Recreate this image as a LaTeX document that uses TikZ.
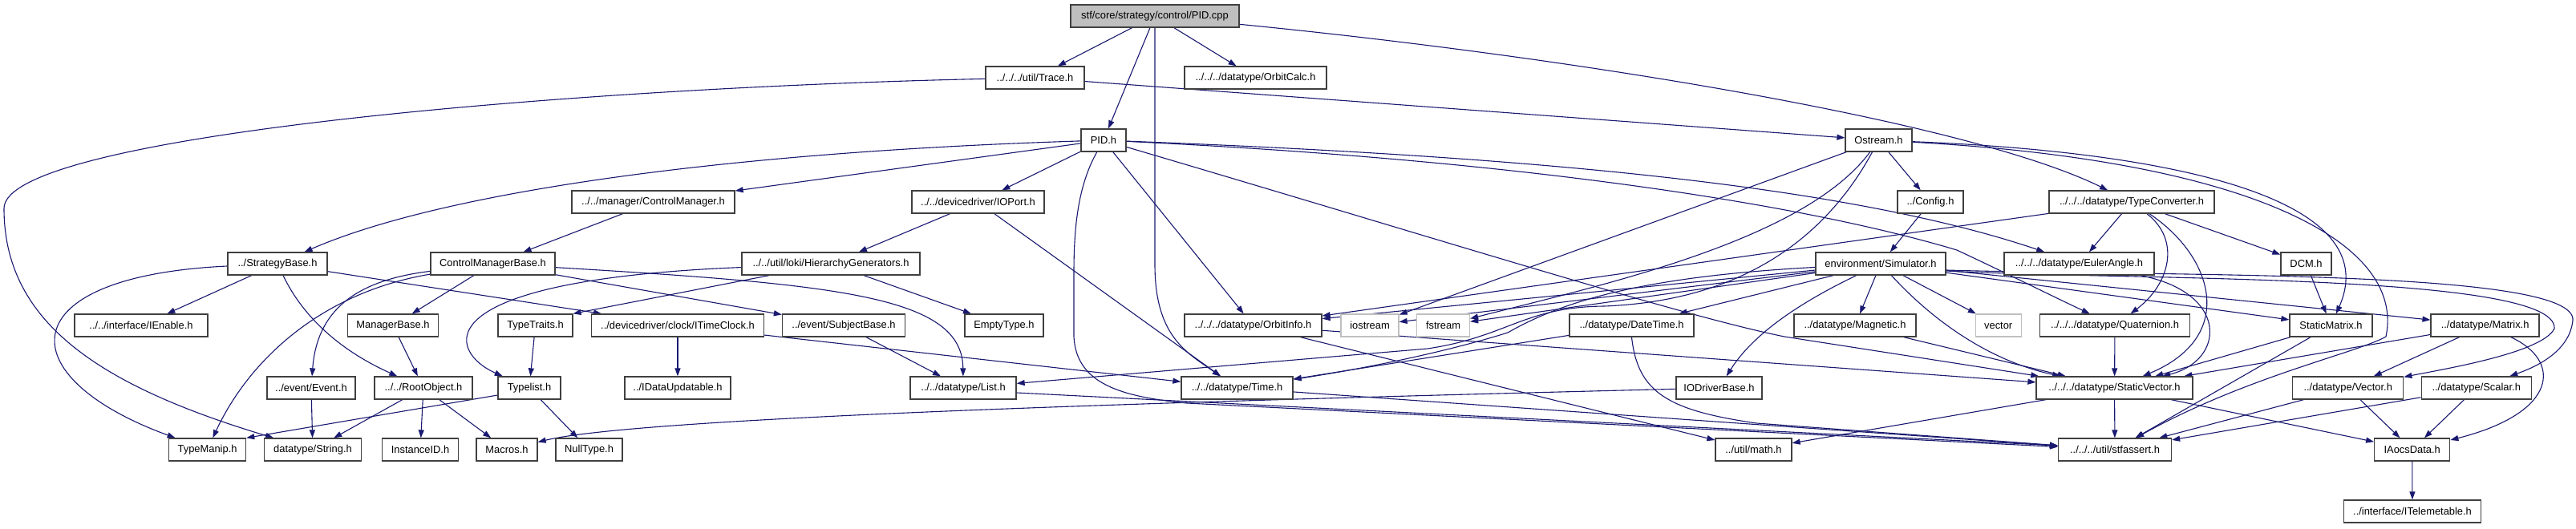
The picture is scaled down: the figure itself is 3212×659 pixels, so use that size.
\documentclass[tikz,border=0pt]{standalone}
\usepackage{fontspec}
\setmainfont{Liberation Sans}
\usetikzlibrary{arrows.meta}
\definecolor{edgec}{HTML}{191970}
\definecolor{rootfill}{HTML}{BFBFBF}
\definecolor{extc}{HTML}{BFBFBF}
\definecolor{bordc}{HTML}{404040}
\pgfdeclarelayer{bg}
\pgfsetlayers{bg,main}
\begin{document}
\begin{tikzpicture}[x=1pt,y=-1pt,
  nd/.style={draw=bordc, line width=1.3pt, fill=white, minimum height=28pt, inner sep=0pt, font=\fontsize{12.9}{14}\selectfont},
  rootnd/.style={nd, fill=rootfill},
  extnd/.style={nd, draw=extc},
  dep/.style={draw=edgec, line width=1.1pt, -{Triangle[length=10pt,width=7pt]}},
]
\useasboundingbox (0,0) rectangle (3212,659);
% row 1
\node[rootnd, minimum width=210pt] (cpp) at (1440,20) {stf/core/strategy/control/PID.cpp};
% row 2
\node[nd, minimum width=123pt] (trace) at (1290.5,97) {../../../util/Trace.h};
\node[nd, minimum width=177pt] (orbitcalc) at (1565.5,97) {../../../datatype/OrbitCalc.h};
% row 3
\node[nd, minimum width=56pt] (pidh) at (1376,175) {PID.h};
\node[nd, minimum width=83pt] (ostream) at (2342.5,175) {Ostream.h};
% row 4
\node[nd, minimum width=203pt] (ctrlmgr) at (814.5,252) {../../manager/ControlManager.h};
\node[nd, minimum width=165pt] (ioport) at (1219.5,252) {../../devicedriver/IOPort.h};
\node[nd, minimum width=82pt] (config) at (2407,252) {../Config.h};
\node[nd, minimum width=206pt] (typeconv) at (2658,252) {../../../datatype/TypeConverter.h};
% row 5
\node[nd, minimum width=124pt] (strategy) at (346,329) {../StrategyBase.h};
\node[nd, minimum width=155pt] (cmbase) at (614.5,329) {ControlManagerBase.h};
\node[nd, minimum width=222pt] (hiergen) at (1036,329) {../../util/loki/HierarchyGenerators.h};
\node[nd, minimum width=162pt] (sim) at (2345,329) {environment/Simulator.h};
\node[nd, minimum width=187pt] (euler) at (2592.5,329) {../../../datatype/EulerAngle.h};
\node[nd, minimum width=63pt] (dcm) at (2875.5,329) {DCM.h};
% row 6
\node[nd, minimum width=166pt] (ienable) at (176,406) {../../interface/IEnable.h};
\node[nd, minimum width=113pt] (mgrbase) at (490,406) {ManagerBase.h};
\node[nd, minimum width=93pt] (typetraits) at (667.5,406) {TypeTraits.h};
\node[nd, minimum width=215pt] (itimeclock) at (845,406) {../devicedriver/clock/ITimeClock.h};
\node[nd, minimum width=153pt] (subject) at (1052,406) {../event/SubjectBase.h};
\node[nd, minimum width=98pt] (empty) at (1252,406) {EmptyType.h};
\node[nd, minimum width=171pt] (orbitinfo) at (1562.5,406) {../../../datatype/OrbitInfo.h};
\node[extnd, minimum width=72pt] (iostream) at (1708,406) {iostream};
\node[extnd, minimum width=66pt] (fstream) at (1799.5,406) {fstream};
\node[nd, minimum width=155pt] (datetime) at (2034.5,406) {../datatype/DateTime.h};
\node[nd, minimum width=152pt] (magnetic) at (2313,406) {../datatype/Magnetic.h};
\node[extnd, minimum width=57pt] (vector) at (2491.7,406) {vector};
\node[nd, minimum width=187pt] (quat) at (2637,406) {../../../datatype/Quaternion.h};
\node[nd, minimum width=103pt] (staticmatrix) at (2906.5,406) {StaticMatrix.h};
\node[nd, minimum width=135pt] (matrix) at (3098.6,406) {../datatype/Matrix.h};
% row 7
\node[nd, minimum width=110pt] (event) at (388,484) {../event/Event.h};
\node[nd, minimum width=122pt] (rootobj) at (528,484) {../../RootObject.h};
\node[nd, minimum width=78pt] (typelist) at (660,484) {Typelist.h};
\node[nd, minimum width=132pt] (idataupd) at (845,484) {../IDataUpdatable.h};
\node[nd, minimum width=132pt] (list) at (1201,484) {../../datatype/List.h};
\node[nd, minimum width=139pt] (time) at (1542.5,484) {../../datatype/Time.h};
\node[nd, minimum width=107pt] (iodriver) at (2143.5,484) {IODriverBase.h};
\node[nd, minimum width=195pt] (staticvec) at (2636.5,484) {../../../datatype/StaticVector.h};
\node[nd, minimum width=138pt] (vectorh) at (2927.7,484) {../datatype/Vector.h};
\node[nd, minimum width=137pt] (scalar) at (3087.7,484) {../datatype/Scalar.h};
% row 8
\node[nd, minimum width=96pt] (typemanip) at (258.6,561) {TypeManip.h};
\node[nd, minimum width=121pt] (string) at (390,561) {datatype/String.h};
\node[nd, minimum width=95pt] (instanceid) at (524,561) {InstanceID.h};
\node[nd, minimum width=76pt] (macros) at (632,561) {Macros.h};
\node[nd, minimum width=83pt] (nulltype) at (734.5,561) {NullType.h};
\node[nd, minimum width=95pt] (math) at (2186.5,561) {../util/math.h};
\node[nd, minimum width=141pt] (stfassert) at (2637,561) {../../../util/stfassert.h};
\node[nd, minimum width=94pt] (iaocs) at (3007.7,561) {IAocsData.h};
% row 9
\node[nd, minimum width=171pt] (itelem) at (3008,638) {../interface/ITelemetable.h};

\begin{pgfonlayer}{bg}
\fill[white] (0,0) rectangle (3212,659);
% PID.cpp
\draw[dep] (cpp) -- (trace);
\draw[dep] (cpp) -- (pidh);
\draw[dep] (cpp) -- (orbitcalc);
\draw[dep] (cpp) .. controls (1950,70) and (2450,150) .. (typeconv);
\draw[dep] (cpp.south) -- (1440,330) .. controls (1440,420) and (1480,440) .. (time);
% Trace.h
\draw[dep] (trace) .. controls (700,110) and (5,170) .. (5,260) .. controls (5,400) and (120,480) .. (string);
\draw[dep] (trace) -- (ostream);
% PID.h
\draw[dep] (pidh) .. controls (900,190) and (550,240) .. (strategy);
\draw[dep] (pidh) -- (ctrlmgr);
\draw[dep] (pidh) -- (ioport);
\draw[dep] (pidh) -- (orbitinfo);
\draw[dep] (pidh) .. controls (1345,230) and (1339,280) .. (1339,340) -- (1339,420) .. controls (1342,480) and (1400,495) .. (1480,503) -- (stfassert);
\draw[dep] (pidh) .. controls (1900,195) and (2300,230) .. (euler);
\draw[dep] (pidh) .. controls (1900,200) and (2250,255) .. (2440,312) .. controls (2500,340) and (2560,370) .. (quat);
\draw[dep] (pidh) .. controls (1800,300) and (2100,395) .. (2225,420) -- (staticvec);
% left part
\draw[dep] (ctrlmgr) -- (cmbase);
\draw[dep] (ioport) -- (hiergen);
\draw[dep] (ioport) -- (time);
\draw[dep] (strategy) -- (ienable);
\draw[dep] (strategy) .. controls (380,400) and (430,440) .. (rootobj);
\draw[dep] (strategy) .. controls (10,345) and (10,470) .. (typemanip);
\draw[dep] (strategy) -- (itimeclock);
\draw[dep] (cmbase) -- (mgrbase);
\draw[dep] (cmbase) .. controls (440,350) and (395,390) .. (event);
\draw[dep] (cmbase) .. controls (400,365) and (310,450) .. (typemanip);
\draw[dep] (cmbase) -- (subject);
\draw[dep] (cmbase) .. controls (1050,355) and (1200,370) .. (list);
\draw[dep] (hiergen) -- (empty);
\draw[dep] (hiergen) .. controls (520,350) and (560,440) .. (typelist);
\draw[dep] ([xshift=-77pt]hiergen.south) -- ([xshift=47pt]typetraits.north);
\draw[dep] (mgrbase) -- (rootobj);
\draw[dep] (typetraits) -- (typelist);
\draw[dep] (itimeclock) -- (idataupd);
\draw[dep] (itimeclock) -- (time);
\draw[dep] (subject) -- (list);
\draw[dep] (event) -- (string);
\draw[dep] (rootobj) -- (string);
\draw[dep] (rootobj) -- (instanceid);
\draw[dep] (rootobj) -- (macros);
\draw[dep] (typelist) -- (nulltype);
\draw[dep] ([yshift=-9pt]typelist.west) -- (typemanip.north east);
\draw[dep] ([yshift=-6pt]list.east) -- ([yshift=5pt]stfassert.west);
\draw[dep] (time) -- (stfassert);
\draw[dep] (orbitinfo) -- (math);
\draw[dep] (orbitinfo) -- (staticvec);
\draw[dep] (iodriver) .. controls (1500,500) and (800,520) .. (macros);
\draw[dep] (datetime) -- (time);
\draw[dep] (datetime.south) .. controls (2042,490) and (2080,512) .. (2190,528) -- (stfassert);
% Simulator.h
\draw[dep] (sim) -- (orbitinfo);
\draw[dep] (sim) -- (iostream);
\draw[dep] (sim) -- (fstream);
\draw[dep] (sim) .. controls (2050,345) and (1950,375) .. (1880,415) .. controls (1800,440) and (1700,460) .. (time);
\draw[dep] (sim) -- (datetime);
\draw[dep] (sim) -- (magnetic);
\draw[dep] (sim) -- (vector);
\draw[dep] (sim) .. controls (2260,370) and (2190,410) .. (iodriver);
\draw[dep] (sim) .. controls (2410,400) and (2480,450) .. (staticvec);
\draw[dep] (sim) -- (staticmatrix);
\draw[dep] (sim) -- (matrix);
\draw[dep] ([yshift=-9pt]sim.east) .. controls (2650,350) and (3190,340) .. (3185,410) .. controls (3170,440) and (3050,460) .. (vectorh);
\draw[dep] ([yshift=-8pt]sim.east) .. controls (2700,345) and (3215,335) .. (3208,400) .. controls (3204,435) and (3170,455) .. (scalar);
\draw[dep] (config) -- (sim);
% Ostream.h
\draw[dep] (ostream) -- (config);
\draw[dep] (ostream) -- (iostream);
\draw[dep] (ostream) .. controls (2250,300) and (2000,355) .. (fstream);
\draw[dep] (ostream) .. controls (2280,290) and (2180,375) .. (2000,382) .. controls (1900,383) and (1880,420) .. (1780,435) -- (list);
\draw[dep] (ostream) .. controls (2720,190) and (2975,250) .. (staticmatrix);
\draw[dep] (ostream) .. controls (2800,200) and (3000,300) .. (2975,420) .. controls (2940,440) and (2800,470) .. (stfassert);
% TypeConverter.h
\draw[dep] (typeconv) -- (euler);
\draw[dep] (typeconv) .. controls (2720,300) and (2705,355) .. (quat);
\draw[dep] (typeconv) .. controls (2760,320) and (2790,420) .. (staticvec);
\draw[dep] (typeconv) -- (dcm);
\draw[dep] (typeconv) -- (orbitinfo);
% right part
\draw[dep] (euler) .. controls (2780,365) and (2775,450) .. (staticvec);
\draw[dep] (dcm) -- (staticmatrix);
\draw[dep] (quat) -- (staticvec);
\draw[dep] (magnetic) -- (staticvec);
\draw[dep] (staticmatrix) -- (staticvec);
\draw[dep] (staticmatrix) -- (stfassert);
\draw[dep] (matrix) -- (staticvec);
\draw[dep] (matrix) -- (vectorh);
\draw[dep] (matrix) .. controls (3195,450) and (3190,515) .. (iaocs);
\draw[dep] (vectorh) -- (iaocs);
\draw[dep] (vectorh) -- (stfassert);
\draw[dep] (scalar) -- (iaocs);
\draw[dep] (scalar) -- (stfassert);
\draw[dep] (staticvec) -- (iaocs);
\draw[dep] (staticvec) -- (math);
\draw[dep] (staticvec) -- (stfassert);
\draw[dep] (iaocs) -- (itelem);
\end{pgfonlayer}
\end{tikzpicture}
\end{document}
